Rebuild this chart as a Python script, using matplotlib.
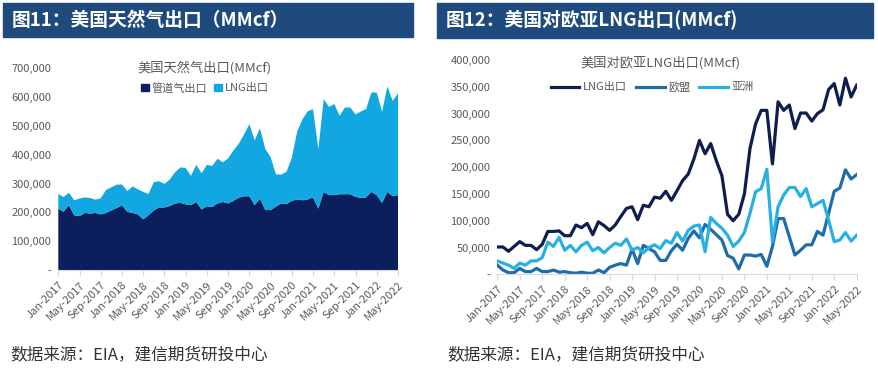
import numpy as np
import pandas as pd
import matplotlib
matplotlib.use('Agg')
import matplotlib.pyplot as plt
from matplotlib.patches import Rectangle, Patch
from matplotlib.lines import Line2D
from matplotlib.ticker import FuncFormatter

plt.rcParams['font.family'] = ['Noto Sans CJK SC', 'DejaVu Sans']

# monthly data, Jan-2017 .. May-2022 (MMcf, in thousands)
months = pd.date_range('2017-01-01', '2022-05-01', freq='MS')
month_labels = [d.strftime('%b-%Y') for d in months]

pipeline = [213, 202, 225, 190, 187, 198, 196, 198, 193, 198,
            207, 215, 225, 202, 198, 193, 176, 190, 207, 217,
            217, 222, 231, 233, 228, 225, 236, 210, 221, 219,
            231, 236, 231, 240, 251, 256, 256, 225, 248, 208,
            208, 220, 231, 229, 240, 245, 242, 245, 252, 213,
            271, 260, 260, 263, 263, 263, 254, 250, 252, 271,
            260, 233, 271, 256, 260]
lng = [51, 51, 43, 52, 61, 54, 54, 46, 56, 80,
       80, 81, 72, 72, 92, 87, 95, 74, 98, 91,
       82, 92, 108, 123, 126, 102, 129, 126, 144, 142,
       155, 138, 156, 175, 187, 215, 250, 225, 244, 212,
       184, 112, 100, 112, 150, 235, 281, 306, 306, 206,
       322, 306, 316, 272, 301, 301, 286, 300, 307, 345,
       356, 316, 366, 331, 353]
eu = [17, 8, 3, 3, 11, 5, 5, 11, 5, 5,
      8, 4, 5, 3, 2, 4, 2, 2, 8, 3,
      13, 17, 20, 17, 47, 20, 54, 48, 42, 26,
      26, 44, 56, 45, 67, 81, 68, 93, 84, 74,
      64, 35, 30, 10, 36, 36, 34, 37, 15, 52,
      104, 104, 70, 36, 45, 55, 55, 80, 73, 114,
      155, 161, 195, 178, 186]
asia = [25, 21, 17, 11, 21, 17, 25, 25, 31, 60,
        52, 69, 45, 54, 42, 54, 60, 44, 50, 40,
        50, 58, 54, 66, 45, 50, 40, 50, 55, 48,
        63, 58, 78, 62, 82, 90, 92, 42, 106, 95,
        86, 73, 52, 62, 78, 114, 154, 160, 196, 61,
        126, 148, 162, 162, 145, 160, 126, 132, 138, 101,
        61, 64, 78, 62, 73]

pipeline = np.array(pipeline) * 1000
lng = np.array(lng) * 1000
eu = np.array(eu) * 1000
asia = np.array(asia) * 1000
x = np.arange(len(months))

W, H = 879, 369
fig = plt.figure(figsize=(W / 100, H / 100), dpi=100)

grey = '#595959'
bar_color = '#1F4A7E'


def fx(px):
    return px / W


def fy(py):
    return 1 - py / H


def yfmt(v, pos):
    return '-' if v == 0 else f'{int(v):,}'


def style_axis(ax, ymax, step):
    ax.set_xlim(0, len(x) - 1)
    ax.set_ylim(0, ymax)
    ax.set_yticks(np.arange(0, ymax + 1, step))
    ax.yaxis.set_major_formatter(FuncFormatter(yfmt))
    ax.set_xticks(x[::4])
    ax.set_xticklabels(month_labels[::4], rotation=45, ha='right',
                       rotation_mode='anchor')
    for s in ['top', 'right', 'left']:
        ax.spines[s].set_visible(False)
    ax.spines['bottom'].set_color('#d9d9d9')
    ax.tick_params(axis='y', length=0, labelsize=8, labelcolor=grey, pad=5)
    ax.tick_params(axis='x', length=4, color='#d9d9d9', labelsize=8,
                   labelcolor=grey, pad=3)


# title bars
for x0, x1, y1, title in [(3, 413, 37, '图11：美国天然气出口（MMcf）'),
                          (437, 873, 38, '图12：美国对欧亚LNG出口(MMcf)')]:
    fig.patches.append(Rectangle((fx(x0), fy(y1)), fx(x1 - x0), (y1 - 3) / H,
                                 transform=fig.transFigure, color=bar_color,
                                 zorder=0))
    fig.text(fx(x0 + 9), fy(20), title, color='white', fontsize=13.5,
             fontweight='bold', va='center', ha='left')

# left: stacked area
ax1 = fig.add_axes([fx(58.3), fy(270), fx(398 - 58.3), (270 - 68.3) / H])
ax1.stackplot(x, pipeline, lng, colors=['#0B1F5C', '#12A7E0'])
style_axis(ax1, 700000, 100000)
fig.text(fx(205), fy(68), '美国天然气出口(MMcf)', fontsize=9.5, color=grey,
         ha='center', va='center')
fig.legend(handles=[Patch(color='#0B1F5C', label='管道气出口'),
                    Patch(color='#12A7E0', label='LNG出口')],
           loc='center', bbox_to_anchor=(fx(205), fy(88)), ncol=2,
           frameon=False, fontsize=8, handlelength=0.7, handleheight=0.7,
           handletextpad=0.3, columnspacing=0.6, labelcolor=grey)

# right: lines
ax2 = fig.add_axes([fx(497.3), fy(274.3), fx(856.7 - 497.3), (274.3 - 60) / H])
ax2.plot(x, lng, color='#0E1F4F', lw=2.3, label='LNG出口')
ax2.plot(x, eu, color='#1F6DA8', lw=2.3, label='欧盟')
ax2.plot(x, asia, color='#27B0E2', lw=2.3, label='亚洲')
style_axis(ax2, 400000, 50000)
fig.text(fx(661), fy(63), '美国对欧亚LNG出口(MMcf)', fontsize=9.5, color=grey,
         ha='center', va='center')
fig.legend(handles=ax2.get_lines(), loc='center',
           bbox_to_anchor=(fx(652), fy(87)), ncol=3, frameon=False,
           fontsize=8, handlelength=2.6, handletextpad=0.3,
           columnspacing=0.8, labelcolor=grey)

# source notes
for xs in [10, 447]:
    fig.text(fx(xs), fy(355), '数据来源：EIA，建信期货研投中心', fontsize=12,
             color='#333333', style='italic', ha='left', va='center')

fig.savefig('out.png', dpi=100)
